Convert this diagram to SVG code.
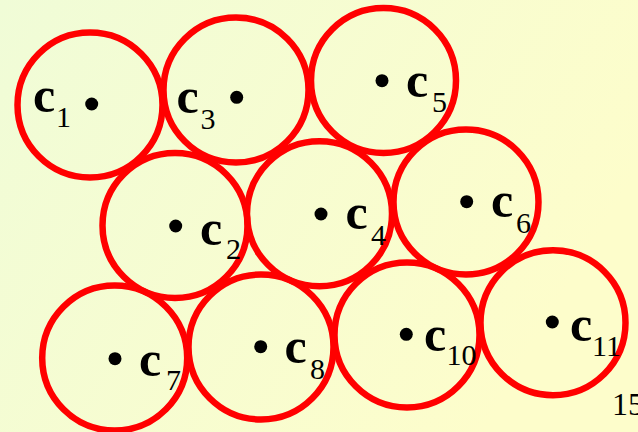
<svg xmlns="http://www.w3.org/2000/svg" width="638" height="432" viewBox="0 0 638 432">
<defs>
<linearGradient id="bg" x1="0" y1="0" x2="1" y2="0.4">
<stop offset="0" stop-color="#f0fcd7"/>
<stop offset="1" stop-color="#fdfdcb"/>
</linearGradient>
</defs>
<style>
.ring{fill:none;stroke:#ff0000;stroke-width:6.5}
.dot{fill:#000}
.c{font-family:"Liberation Serif","Times New Roman",serif;font-weight:bold;font-size:50px;fill:#000}
.s{font-family:"Liberation Serif","Times New Roman",serif;font-weight:normal;font-size:30px;fill:#000}
.pg{font-family:"Liberation Serif","Times New Roman",serif;font-size:32px;fill:#000}
</style>
<rect width="638" height="432" fill="url(#bg)"/>
<g id="connectors"></g>
<g id="n1"><circle class="ring" cx="90" cy="105" r="72.5"/><circle class="dot" cx="91.7" cy="104" r="6.5"/><text class="c" x="33" y="112">c</text><text class="s" x="56" y="127">1</text></g>
<g id="n3"><circle class="ring" cx="236" cy="90" r="72.5"/><circle class="dot" cx="236.7" cy="97.3" r="6.5"/><text class="c" x="176.5" y="113">c</text><text class="s" x="200.5" y="128.5">3</text></g>
<g id="n5"><circle class="ring" cx="383.5" cy="80.5" r="72.5"/><circle class="dot" cx="382" cy="80.7" r="6.5"/><text class="c" x="406" y="97">c</text><text class="s" x="432" y="111.5">5</text></g>
<g id="n2"><circle class="ring" cx="175" cy="225.5" r="72.5"/><circle class="dot" cx="175.7" cy="226" r="6.5"/><text class="c" x="200" y="245">c</text><text class="s" x="226" y="258.5">2</text></g>
<g id="n4"><circle class="ring" cx="319.5" cy="213.8" r="72.5"/><circle class="dot" cx="321" cy="214" r="6.5"/><text class="c" x="345.5" y="229">c</text><text class="s" x="371" y="245">4</text></g>
<g id="n6"><circle class="ring" cx="466" cy="202" r="72.5"/><circle class="dot" cx="466.7" cy="201.7" r="6.5"/><text class="c" x="491" y="217">c</text><text class="s" x="516" y="232.5">6</text></g>
<g id="n7"><circle class="ring" cx="114.7" cy="358" r="72.5"/><circle class="dot" cx="115" cy="358.7" r="6.5"/><text class="c" x="139" y="376">c</text><text class="s" x="166" y="390">7</text></g>
<g id="n8"><circle class="ring" cx="261" cy="347" r="72.5"/><circle class="dot" cx="260.7" cy="346.7" r="6.5"/><text class="c" x="284.5" y="363">c</text><text class="s" x="310" y="378.5">8</text></g>
<g id="n10"><circle class="ring" cx="407" cy="335" r="72.5"/><circle class="dot" cx="406.3" cy="334.3" r="6.5"/><text class="c" x="424" y="351">c</text><text class="s" x="446.5" y="365">10</text></g>
<g id="n11"><circle class="ring" cx="553" cy="322.7" r="72.5"/><circle class="dot" cx="552.3" cy="322" r="6.5"/><text class="c" x="570" y="341">c</text><text class="s" x="592" y="356">11</text></g>
<text class="pg" x="612" y="415">15</text>
</svg>
